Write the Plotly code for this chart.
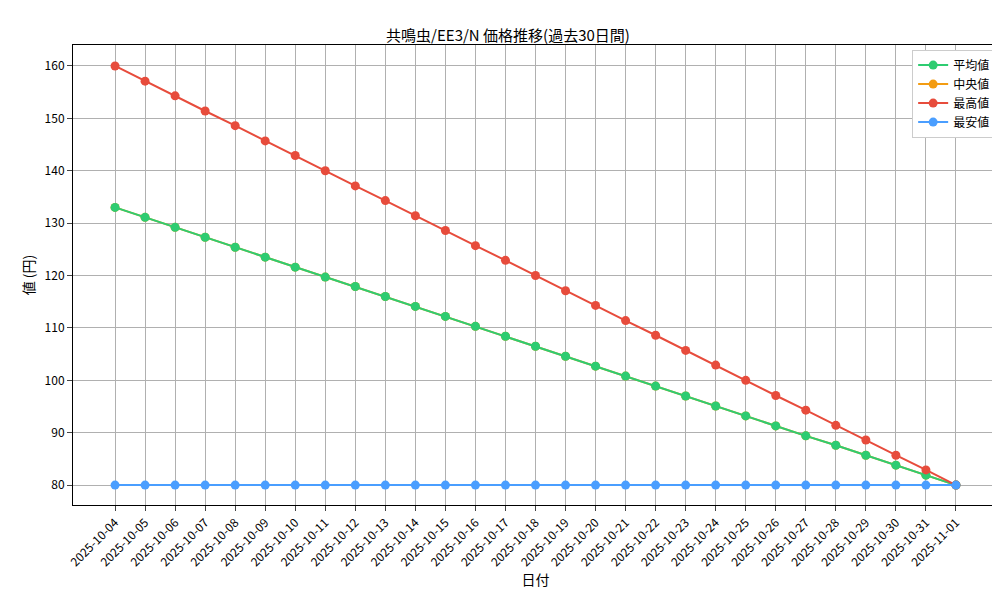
import plotly.graph_objects as go

dates = ["2025-10-%02d" % d for d in range(4, 32)] + ["2025-11-01"]
avg_vals = [133, 131.1, 129.2, 127.3, 125.4, 123.5, 121.6, 119.7, 117.9, 116.0, 114.1, 112.2, 110.3, 108.4,
            106.5, 104.6, 102.7, 100.8, 98.9, 97.0, 95.1, 93.2, 91.3, 89.4, 87.6, 85.7, 83.8, 81.9, 80]
median_vals = list(avg_vals)
max_vals = [160, 157.1, 154.3, 151.4, 148.6, 145.7, 142.9, 140.0, 137.1, 134.3, 131.4, 128.6, 125.7, 122.9,
            120.0, 117.1, 114.3, 111.4, 108.6, 105.7, 102.9, 100.0, 97.1, 94.3, 91.4, 88.6, 85.7, 82.9, 80]
min_vals = [80] * 29

# draw order (median beneath average), legend order via legendrank
series = [("中央値", median_vals, "#f39c12", 2), ("平均値", avg_vals, "#2ecc71", 1),
          ("最高値", max_vals, "#e74c3c", 3), ("最安値", min_vals, "#4a9eff", 4)]

fig = go.Figure()
for name, vals, color, rank in series:
    fig.add_trace(go.Scatter(x=list(range(len(dates))), y=vals, name=name, mode="lines+markers",
                             legendrank=rank,
                             line=dict(color=color, width=2), marker=dict(size=9, color=color)))

font = "Noto Sans CJK JP"
fig.update_layout(
    width=1000, height=600, plot_bgcolor="white", paper_bgcolor="white",
    font=dict(family=font, size=12, color="black"),
    margin=dict(l=65, r=10, t=37, b=103, autoexpand=False),
    title=dict(text="共鳴虫/EE3/N 価格推移(過去30日間)", x=0.5, xanchor="center", y=0.963, font=dict(size=15)),
    legend=dict(x=0.998, y=0.99, xanchor="right", yanchor="top", bordercolor="#cccccc", borderwidth=1,
                bgcolor="white", font=dict(size=12)),
    showlegend=True,
)
fig.update_xaxes(tickmode="array", tickvals=list(range(len(dates))), ticktext=dates, tickangle=-45,
                 range=[-1.4, 29.4], showgrid=True, gridcolor="#b0b0b0", showline=True, linecolor="black",
                 mirror=True, ticks="outside", zeroline=False, automargin=False,
                 title=dict(text="日付", standoff=4))
fig.update_yaxes(range=[76.2, 164], dtick=10, showgrid=True, gridcolor="#b0b0b0", showline=True,
                 linecolor="black", mirror=True, ticks="outside", zeroline=False, automargin=False,
                 title=dict(text="値 (円)", standoff=6))
fig.write_html("out.html")
